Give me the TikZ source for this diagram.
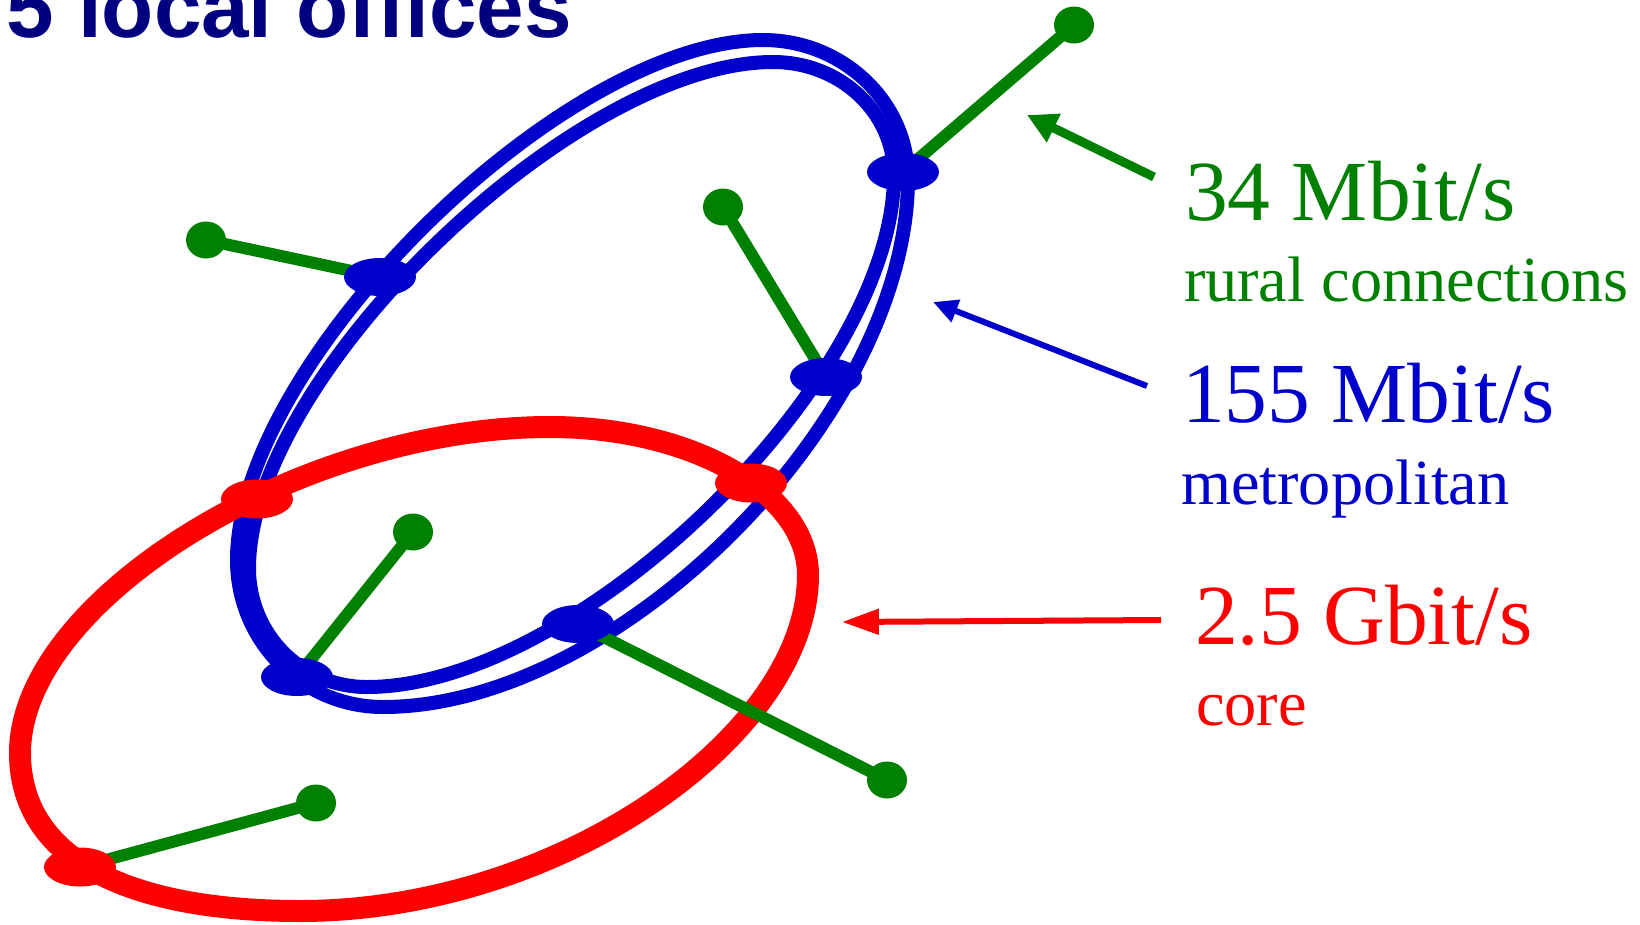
\documentclass[tikz,border=0pt]{standalone}
\usepackage{fontspec}
\setmainfont{Liberation Serif}
\newfontfamily\titlefont{Liberation Sans}
\usetikzlibrary{shapes.geometric,arrows.meta}
\definecolor{cgreen}{RGB}{0,128,0}
\definecolor{cblue}{RGB}{0,0,204}
\definecolor{cred}{RGB}{255,0,0}
\definecolor{cnavy}{RGB}{0,0,128}
\pgfdeclarelayer{bg}
\pgfsetlayers{bg,main}
\tikzset{
  bnode/.style={ellipse,fill=cblue,draw=none,inner sep=0pt,minimum width=1.44cm,minimum height=0.76cm},
  rnode/.style={ellipse,fill=cred,draw=none,inner sep=0pt,minimum width=1.44cm,minimum height=0.78cm},
  gdot/.style={ellipse,fill=cgreen,draw=none,inner sep=0pt,minimum width=0.8cm,minimum height=0.74cm},
  bring/.style={draw=cblue,line width=0.28cm},
  rring/.style={draw=cred,line width=0.44cm},
  gline/.style={draw=cgreen,line width=0.24cm},
  lbl/.style={anchor=base west,inner sep=0pt,outer sep=0pt},
  big/.style={font=\fontsize{48.7}{58}\selectfont},
  small/.style={font=\fontsize{36.6}{43}\selectfont},
}
\begin{document}
\begin{tikzpicture}[x=0.02cm,y=-0.02cm]
\useasboundingbox (0,0) rectangle (1640,924);

% title
\node[lbl,text=cnavy,font=\titlefont\bfseries\fontsize{48.6}{58}\selectfont] (title) at (7,37) {5 local offices};

% blue ring nodes
\node[bnode] (B1) at (380,277) {};
\node[bnode] (B2) at (903,172) {};
\node[bnode] (B3) at (826,377) {};
\node[bnode] (B4) at (578,624) {};
\node[bnode] (B5) at (297,677) {};
% red ring nodes
\node[rnode] (R1) at (257,499) {};
\node[rnode] (R2) at (751,483) {};
\node[rnode] (R3) at (80,867) {};
% green end points
\node[gdot] (G1) at (1074,25) {};
\node[gdot] (G2) at (723,207) {};
\node[gdot] (G3) at (206,240) {};
\node[gdot] (G4) at (413,532) {};
\node[gdot] (G5) at (316,803) {};
\node[gdot] (G6) at (887,780) {};

\begin{pgfonlayer}{bg}
% blue metropolitan ring (double)
\draw[bring] (763,40) .. controls (843,40) and (908,102) .. (908,178)
  .. controls (908,416) and (619,707) .. (383,707)
  .. controls (302,707) and (237,641) .. (237,560)
  .. controls (237,362) and (563,40) .. cycle;
\draw[bring] (773,62) .. controls (840,62) and (894,112) .. (894,175)
  .. controls (894,380) and (578,687) .. (367,687)
  .. controls (301,687) and (249,634) .. (249,568)
  .. controls (249,377) and (574,62) .. cycle;
% red core ring
\draw[rring] (550,427) .. controls (692,427) and (808,493) .. (808,575)
  .. controls (808,735) and (560,911) .. (300,911)
  .. controls (130,911) and (20,860) .. (20,753)
  .. controls (20,600) and (300,427) .. cycle;
% rural connections
\draw[gline] (G1.center) -- (B2.center);
\draw[gline] (G2.center) -- (B3.center);
\draw[gline] (G3.center) -- (B1.center);
\draw[gline] (G4.center) -- (B5.center);
\draw[gline] (G5.center) -- (R3.center);
\draw[gline] (G6.center) -- (B4.center);
\end{pgfonlayer}

% labels
\node[lbl,big,text=cgreen] (l34) at (1185,220) {34 Mbit/s};
\node[lbl,small,text=cgreen] (lrural) at (1184,301) {rural connections};
\node[lbl,big,text=cblue] (l155) at (1182,422) {155 Mbit/s};
\node[lbl,small,text=cblue] (lmetro) at (1181,504) {metropolitan};
\node[lbl,big,text=cred] (l25) at (1195,644) {2.5 Gbit/s};
\node[lbl,small,text=cred] (lcore) at (1196,725) {core};

% pointer arrows
\coordinate (gtail) at (1154,177);
\coordinate (gtip) at (1027,115);
\coordinate (btail) at (1147,386);
\coordinate (btip) at (933,302);
\coordinate (rtail) at (1161,620);
\coordinate (rtip) at (842,622);
\draw[cgreen,line width=0.18cm,-{Triangle[length=17pt,width=17pt]}] (gtail) -- (gtip);
\draw[cblue,line width=0.12cm,-{Triangle[length=14pt,width=13pt]}] (btail) -- (btip);
\draw[cred,line width=0.12cm,-{Triangle[length=21pt,width=14pt]}] (rtail) -- (rtip);
\end{tikzpicture}
\end{document}
